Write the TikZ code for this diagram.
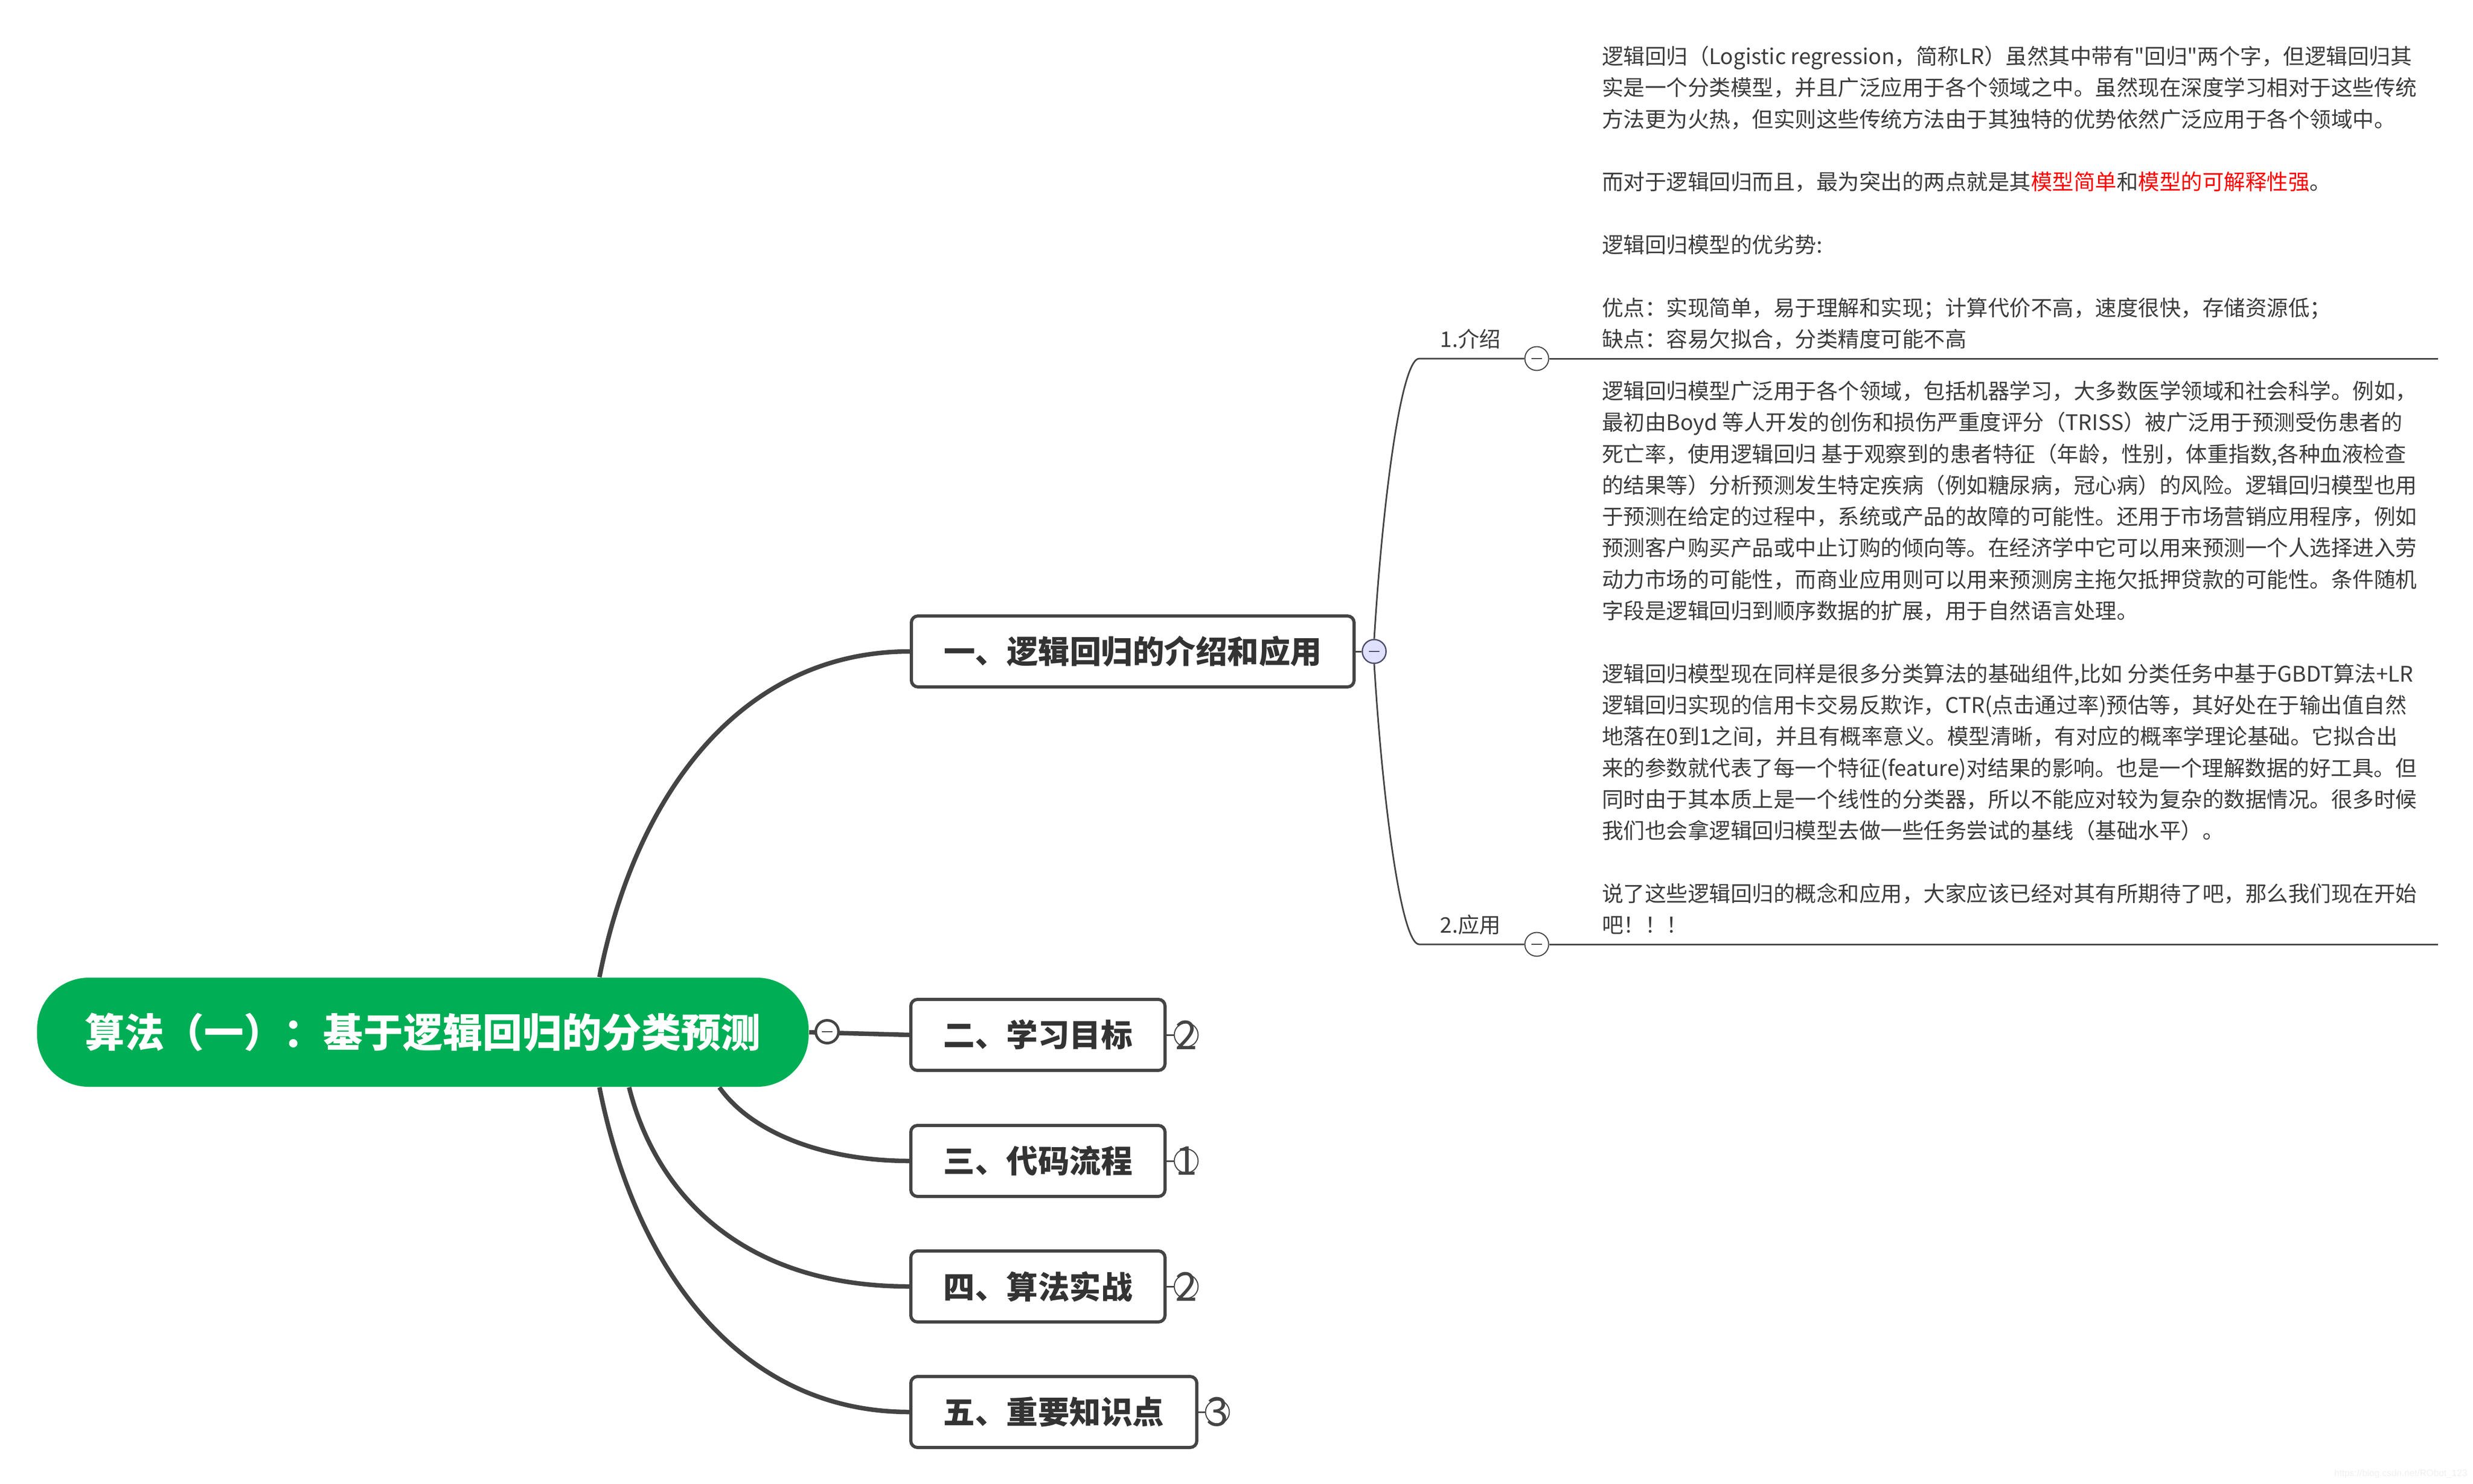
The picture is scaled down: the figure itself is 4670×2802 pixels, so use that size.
\documentclass[tikz,border=0pt]{standalone}
\usepackage{fontspec}
\setmainfont{Noto Sans CJK SC}
\newfontfamily\plainfont{Noto Sans CJK SC}
\newfontfamily\wmfont{Liberation Sans}
\usetikzlibrary{backgrounds}
\definecolor{ink}{HTML}{333333}
\definecolor{bodyc}{HTML}{3C3C3C}
\definecolor{linec}{HTML}{444444}
\definecolor{rootc}{HTML}{00AE55}
\definecolor{foldc}{HTML}{E0E0FF}
\definecolor{foldl}{HTML}{4A4A6A}
\definecolor{wmc}{HTML}{F0F0F0}
\newcommand{\rd}[1]{\textcolor{red}{#1}}
\newcommand{\sq}{{\plainfont "}}
\tikzset{
  x=0.2pt,y=-0.2pt,
  rootnode/.style={fill=rootc,rounded corners=19.5pt,minimum width=291.4pt,minimum height=41.2pt,inner sep=0,text=white,font=\fontsize{15}{18}\selectfont\bfseries},
  topic/.style={draw=linec,line width=1.2pt,fill=white,rounded corners=2.5pt,minimum height=26.8pt,inner sep=0,text=ink,font=\fontsize{11.9}{14}\selectfont\bfseries},
  rootfold/.style={circle,draw=linec,line width=1pt,fill=white,minimum size=8.6pt,inner sep=0},
  topicfold/.style={circle,draw=foldl,line width=0.5pt,fill=foldc,minimum size=9pt,inner sep=0},
  subfold/.style={circle,draw=linec,line width=0.4pt,fill=white,minimum size=9pt,inner sep=0},
  count/.style={circle,draw=linec,line width=0.4pt,fill=white,minimum size=9pt,inner sep=0},
  digit/.style={inner sep=0,text=linec,font=\fontsize{15}{15}\selectfont},
  thickline/.style={draw=linec,line width=1.7pt},
  midline/.style={draw=linec,line width=0.6pt},
  body/.style={inner sep=0,anchor=north west,align=left,text=bodyc,font=\fontsize{8.1}{11.86}\selectfont},
  sub/.style={inner sep=0,text=bodyc,font=\fontsize{8.1}{10}\selectfont},
  minusmark/.style={draw=#1,line width=0.5pt}
}
\begin{document}
\begin{tikzpicture}
\useasboundingbox (0,0) rectangle (4670,2802);
% nodes
\node[rootnode] (root) at (798.5,1949) {算法（一）：基于逻辑回归的分类预测};
\node[topic,minimum width=167.2pt] (b1) at (2139,1230) {一、逻辑回归的介绍和应用};
\node[topic,minimum width=96pt] (b2) at (1960,1954) {二、学习目标};
\node[topic,minimum width=96pt] (b3) at (1960,2192) {三、代码流程};
\node[topic,minimum width=96pt] (b4) at (1960,2429) {四、算法实战};
\node[topic,minimum width=108pt] (b5) at (1990,2666) {五、重要知识点};
\node[rootfold] (rf) at (1562,1948) {};
\node[topicfold] (c1) at (2595,1230) {};
\node[subfold] (f1) at (2902,677) {};
\node[subfold] (f2) at (2902,1783) {};
\coordinate (k1) at (2680,677);
\coordinate (k2) at (2680,1783);
\coordinate (e1) at (4604,677);
\coordinate (e2) at (4604,1783);
\node[count] (n2) at (2240,1954) {};
\node[count] (n3) at (2240,2192) {};
\node[count] (n4) at (2240,2429) {};
\node[count] (n5) at (2299,2666) {};
\node[digit] (d2) at (n2) {2};
\node[digit] (d3) at (n3) {1};
\node[digit] (d4) at (n4) {2};
\node[digit] (d5) at (n5) {3};
\node[sub] (l1) at (2777,640) {1.介绍};
\node[sub] (l2) at (2777,1746) {2.应用};
% fold minus signs
\draw[minusmark=linec] ([xshift=-2pt]rf.center) -- ([xshift=2pt]rf.center);
\draw[minusmark=foldl] ([xshift=-2pt]c1.center) -- ([xshift=2pt]c1.center);
\draw[minusmark=linec] ([xshift=-2pt]f1.center) -- ([xshift=2pt]f1.center);
\draw[minusmark=linec] ([xshift=-2pt]f2.center) -- ([xshift=2pt]f2.center);
% connectors
\begin{pgfonlayer}{background}
\draw[thickline] ([xshift=66.7pt]root.north) .. controls +(68,-346) and +(-318,0) .. (b1.west);
\draw[thickline] (root.east) -- (b2.west);
\draw[thickline] ([xshift=112pt]root.south) .. controls +(62,88) and +(-157,0) .. (b3.west);
\draw[thickline] ([xshift=77.9pt]root.south) .. controls +(50,200) and +(-317,0) .. (b4.west);
\draw[thickline] ([xshift=66.7pt]root.south) .. controls +(68,346) and +(-318,0) .. (b5.west);
\draw[midline] (b1.east) -- (c1.west);
\draw[midline] (b2.east) -- (n2.west);
\draw[midline] (b3.east) -- (n3.west);
\draw[midline] (b4.east) -- (n4.west);
\draw[midline] (b5.east) -- (n5.west);
\draw[midline] (c1.north) .. controls +(15,-248) and +(-35,0) .. (k1) -- (f1.west);
\draw[midline] (c1.south) .. controls +(15,248) and +(-35,0) .. (k2) -- (f2.west);
\draw[midline] (f1.east) -- (e1);
\draw[midline] (f2.east) -- (e2);
\end{pgfonlayer}
% body texts
\node[body] (t1) at (3024,86) {逻辑回归（Logistic regression，简称LR）虽然其中带有\sq 回归\sq 两个字，但逻辑回归其\\
实是一个分类模型，并且广泛应用于各个领域之中。虽然现在深度学习相对于这些传统\\
方法更为火热，但实则这些传统方法由于其独特的优势依然广泛应用于各个领域中。\\
\mbox{}\\
而对于逻辑回归而且，最为突出的两点就是其\rd{模型简单}和\rd{模型的可解释性强}。\\
\mbox{}\\
逻辑回归模型的优劣势:\\
\mbox{}\\
优点：实现简单，易于理解和实现；计算代价不高，速度很快，存储资源低；\\
缺点：容易欠拟合，分类精度可能不高};
\node[body] (t2) at (3024,718) {逻辑回归模型广泛用于各个领域，包括机器学习，大多数医学领域和社会科学。例如，\\
最初由Boyd 等人开发的创伤和损伤严重度评分（TRISS）被广泛用于预测受伤患者的\\
死亡率，使用逻辑回归 基于观察到的患者特征（年龄，性别，体重指数,各种血液检查\\
的结果等）分析预测发生特定疾病（例如糖尿病，冠心病）的风险。逻辑回归模型也用\\
于预测在给定的过程中，系统或产品的故障的可能性。还用于市场营销应用程序，例如\\
预测客户购买产品或中止订购的倾向等。在经济学中它可以用来预测一个人选择进入劳\\
动力市场的可能性，而商业应用则可以用来预测房主拖欠抵押贷款的可能性。条件随机\\
字段是逻辑回归到顺序数据的扩展，用于自然语言处理。\\
\mbox{}\\
逻辑回归模型现在同样是很多分类算法的基础组件,比如 分类任务中基于GBDT算法+LR\\
逻辑回归实现的信用卡交易反欺诈，CTR(点击通过率)预估等，其好处在于输出值自然\\
地落在0到1之间，并且有概率意义。模型清晰，有对应的概率学理论基础。它拟合出\\
来的参数就代表了每一个特征(feature)对结果的影响。也是一个理解数据的好工具。但\\
同时由于其本质上是一个线性的分类器，所以不能应对较为复杂的数据情况。很多时候\\
我们也会拿逻辑回归模型去做一些任务尝试的基线（基础水平）。\\
\mbox{}\\
说了这些逻辑回归的概念和应用，大家应该已经对其有所期待了吧，那么我们现在开始\\
吧！！！};
\node[inner sep=0,anchor=east,text=wmc,font=\wmfont\fontsize{3.5}{4}\selectfont] (wm) at (4660,2783) {https://blog.csdn.net/RObot\_123};
\end{tikzpicture}
\end{document}
